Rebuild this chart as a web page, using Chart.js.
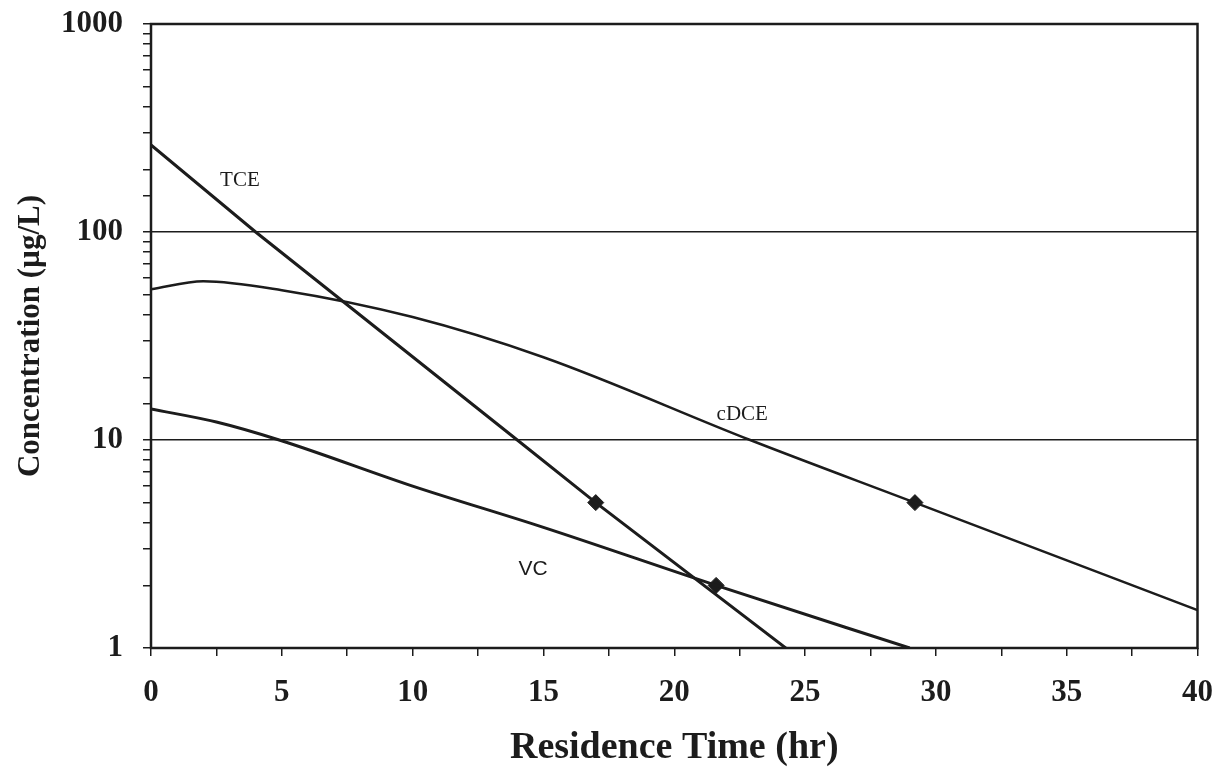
<!DOCTYPE html>
<html>
<head>
<meta charset="utf-8">
<script src="https://cdn.jsdelivr.net/npm/chart.js@4.4.1/dist/chart.umd.min.js"></script>
<style>
  html, body { margin: 0; padding: 0; background: #fff; }
  #wrap { width: 1231px; height: 773px; position: relative; }
</style>
</head>
<body>
<div id="wrap"><canvas id="chart"></canvas></div>
<script>
// ------------------------------------------------------------
//  Concentration vs residence time (log scale)
// ------------------------------------------------------------

// TCE decay (straight on the log axis)
const tceTime = [0, 4, 14, 17, 24.4];
const tceConc = [262, 100, 10, 5, 0.97];

// cDCE: builds up briefly, then decays
const cdceTime = [0, 2, 5, 10, 15, 22.9, 29.2, 40];
const cdceConc = [53, 58, 52.5, 39, 25, 10, 5, 1.52];

// VC
const vcTime = [0, 2.5, 4.9, 10, 15, 21.6, 29];
const vcConc = [14.1, 12.2, 10, 6.0, 3.8, 2, 1];

// diamond markers on the curves
const markerTime = [17, 21.6, 29.2];
const markerConc = [5, 2, 5];

// curve labels
const labelText = ['TCE', 'cDCE', 'VC'];
const labelTime = [3.4, 22.6, 14.6];
const labelConc = [176, 13.3, 2.4];
const labelFont = ['21px "Liberation Serif"', '21px "Liberation Serif"', '21px "Liberation Sans"'];

const yMajor = [1, 10, 100, 1000];
const INK = '#1c1c1c';

const toPoints = (xs, ys) => xs.map((x, i) => ({ x: x, y: ys[i] }));

// frame around the plot area + curve labels
const framePlugin = {
    id: 'frame',
    afterDatasetsDraw(chart) {
        const { ctx, chartArea: a, scales } = chart;
        ctx.save();
        ctx.strokeStyle = INK;
        ctx.lineWidth = 2.5;
        ctx.strokeRect(a.left, a.top, a.right - a.left, a.bottom - a.top);

        ctx.fillStyle = INK;
        ctx.textAlign = 'center';
        ctx.textBaseline = 'middle';
        labelText.forEach((t, i) => {
            ctx.font = labelFont[i];
            ctx.fillText(t, scales.x.getPixelForValue(labelTime[i]), scales.y.getPixelForValue(labelConc[i]));
        });
        ctx.restore();
    }
};

const lineStyle = (width) => ({
    showLine: true,
    borderColor: INK,
    borderWidth: width,
    pointRadius: 0,
    fill: false,
    cubicInterpolationMode: 'monotone'
});

const tickFont = { family: '"Liberation Serif"', size: 31, weight: 'bold', lineHeight: 1.2 };

new Chart(document.getElementById('chart'), {
    type: 'scatter',
    data: {
        datasets: [
            { label: 'TCE', data: toPoints(tceTime, tceConc), ...lineStyle(3), cubicInterpolationMode: 'default', tension: 0 },
            { label: 'cDCE', data: toPoints(cdceTime, cdceConc), ...lineStyle(2.5) },
            { label: 'VC', data: toPoints(vcTime, vcConc), ...lineStyle(3) },
            {
                label: 'markers',
                data: toPoints(markerTime, markerConc),
                showLine: false,
                pointStyle: 'rectRot',
                pointRadius: 8,
                backgroundColor: INK,
                borderColor: INK,
                borderWidth: 1
            }
        ]
    },
    options: {
        responsive: true,
        maintainAspectRatio: false,
        animation: false,
        layout: { padding: { top: 24, right: 33, left: 0, bottom: 0 } },
        plugins: {
            legend: { display: false },
            tooltip: { enabled: false }
        },
        scales: {
            x: {
                type: 'linear',
                min: 0,
                max: 40,
                afterFit: (s) => { s.height = 125; },
                border: { display: false },
                grid: {
                    drawOnChartArea: false,
                    drawTicks: true,
                    tickLength: 8,
                    tickColor: INK,
                    lineWidth: 1.5
                },
                ticks: {
                    stepSize: 2.5,
                    autoSkip: false,
                    maxRotation: 0,
                    padding: 18,
                    color: INK,
                    font: tickFont,
                    callback: (v) => (v % 5 === 0 ? String(v) : '')
                },
                title: {
                    display: true,
                    text: 'Residence Time (hr)',
                    color: INK,
                    padding: { top: 0, bottom: 2 },
                    font: { family: '"Liberation Serif"', size: 38, weight: 'bold', lineHeight: 1.2 }
                }
            },
            y: {
                type: 'logarithmic',
                min: 1,
                max: 1000,
                // fixed axis width; the 1000 label may overhang the top padding
                afterFit: (s) => { s.width = 151; s.paddingTop = 0; s.paddingBottom = 0; },
                border: { display: false },
                grid: {
                    drawTicks: true,
                    tickLength: 8,
                    tickColor: INK,
                    lineWidth: 1.5,
                    color: (c) => (c.tick && (c.tick.value === 10 || c.tick.value === 100)) ? INK : 'rgba(0,0,0,0)'
                },
                ticks: {
                    autoSkip: false,
                    padding: 20,
                    color: INK,
                    font: tickFont,
                    callback: (v) => (yMajor.includes(v) ? String(v) : '')
                },
                title: {
                    display: true,
                    text: 'Concentration (µg/L)',
                    color: INK,
                    padding: { top: 12, bottom: 0 },
                    font: { family: '"Liberation Serif"', size: 31, weight: 'bold', lineHeight: 1.2 }
                }
            }
        }
    },
    plugins: [framePlugin]
});
</script>
</body>
</html>
